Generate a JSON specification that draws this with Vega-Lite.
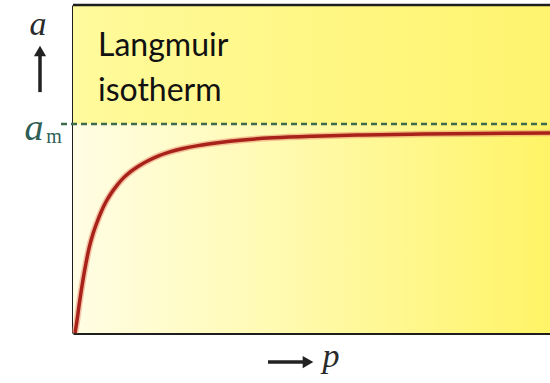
{
  "$schema": "https://vega.github.io/schema/vega-lite/v6.json",
  "width": 477,
  "height": 328,
  "autosize": {"type": "none"},
  "padding": {"left": 73, "top": 5, "right": 0, "bottom": 50},
  "background": "white",
  "config": {"view": {"stroke": null}},
  "datasets": {
    "panels": [
      {"part": "below", "p0": 0, "p1": 477, "a0": 0, "a1": 1.0},
      {"part": "above", "p0": 0, "p1": 477, "a0": 1.0, "a1": 1.57}
    ],
    "isotherm": [
      {"p": 2, "a": 0.0},
      {"p": 4, "a": 0.06},
      {"p": 6, "a": 0.13},
      {"p": 8, "a": 0.195},
      {"p": 10, "a": 0.255},
      {"p": 13, "a": 0.335},
      {"p": 16, "a": 0.405},
      {"p": 20, "a": 0.475},
      {"p": 24, "a": 0.53},
      {"p": 28, "a": 0.578},
      {"p": 33, "a": 0.628},
      {"p": 38, "a": 0.668},
      {"p": 44, "a": 0.707},
      {"p": 50, "a": 0.74},
      {"p": 57, "a": 0.77},
      {"p": 65, "a": 0.797},
      {"p": 74, "a": 0.822},
      {"p": 85, "a": 0.847},
      {"p": 97, "a": 0.867},
      {"p": 110, "a": 0.883},
      {"p": 125, "a": 0.897},
      {"p": 145, "a": 0.911},
      {"p": 170, "a": 0.924},
      {"p": 200, "a": 0.934},
      {"p": 240, "a": 0.942},
      {"p": 290, "a": 0.948},
      {"p": 350, "a": 0.952},
      {"p": 410, "a": 0.955},
      {"p": 477, "a": 0.957}
    ],
    "monolayer": [{"p0": -12, "p1": 477, "a": 1.0}],
    "frameTop": [{"p0": 0, "p1": 477, "a": 1.57}],
    "caption": [
      {"p": 25, "a": 1.325, "text": "Langmuir"},
      {"p": 25, "a": 1.11, "text": "isotherm"}
    ],
    "italicLetters": [
      {"p": -35, "a": 1.426, "text": "a", "tone": "axis", "size": 34},
      {"p": -39, "a": 0.923, "text": "a", "tone": "mono", "size": 38},
      {"p": 258, "a": -0.163, "text": "p", "tone": "axis", "size": 34}
    ],
    "subscript": [{"p": -19, "a": 0.909, "text": "m"}],
    "arrowShafts": [
      {"p0": -33, "p1": -33, "a0": 1.153, "a1": 1.33},
      {"p0": 195, "p1": 230, "a0": -0.139, "a1": -0.139}
    ],
    "arrowHeads": [
      {"p": -33, "a": 1.35, "dir": "up"},
      {"p": 235, "a": -0.139, "dir": "right"}
    ]
  },
  "layer": [
    {
      "data": {"name": "panels"},
      "transform": [{"filter": "datum.part === 'below'"}],
      "mark": {
        "type": "rect",
        "fill": {
          "gradient": "linear",
          "x1": 0, "y1": 0, "x2": 1, "y2": 0,
          "stops": [
            {"offset": 0, "color": "#FFFDE4"},
            {"offset": 0.45, "color": "#FFFAAE"},
            {"offset": 1, "color": "#FFF466"}
          ]
        }
      },
      "encoding": {
        "x": {"field": "p0", "type": "quantitative", "scale": {"domain": [0, 477], "nice": false, "zero": false}, "axis": {"domainColor": "#1e1e1e", "domainWidth": 3, "ticks": false, "labels": false, "grid": false, "title": null}},
        "x2": {"field": "p1"},
        "y": {"field": "a0", "type": "quantitative", "scale": {"domain": [0, 1.57], "nice": false, "zero": false}, "axis": {"domainColor": "#1e1e1e", "domainWidth": 3, "ticks": false, "labels": false, "grid": false, "title": null}},
        "y2": {"field": "a1"}
      }
    },
    {
      "data": {"name": "panels"},
      "transform": [{"filter": "datum.part === 'above'"}],
      "mark": {
        "type": "rect",
        "fill": {
          "gradient": "linear",
          "x1": 0, "y1": 0, "x2": 1, "y2": 0,
          "stops": [
            {"offset": 0, "color": "#FFFA9C"},
            {"offset": 1, "color": "#FFF46E"}
          ]
        }
      },
      "encoding": {
        "x": {"field": "p0", "type": "quantitative"},
        "x2": {"field": "p1"},
        "y": {"field": "a0", "type": "quantitative"},
        "y2": {"field": "a1"}
      }
    },
    {
      "data": {"name": "frameTop"},
      "mark": {"type": "rule", "color": "#1e1e1e", "strokeWidth": 2.5},
      "encoding": {
        "x": {"field": "p0", "type": "quantitative"},
        "x2": {"field": "p1"},
        "y": {"field": "a", "type": "quantitative"}
      }
    },
    {
      "data": {"name": "monolayer"},
      "mark": {"type": "rule", "color": "#3E6A4E", "strokeWidth": 2.5, "strokeDash": [6, 4], "clip": false},
      "encoding": {
        "x": {"field": "p0", "type": "quantitative"},
        "x2": {"field": "p1"},
        "y": {"field": "a", "type": "quantitative"}
      }
    },
    {
      "data": {"name": "isotherm"},
      "mark": {"type": "line", "color": "#E7896A", "strokeWidth": 6.5, "opacity": 0.5, "interpolate": "monotone"},
      "encoding": {
        "x": {"field": "p", "type": "quantitative"},
        "y": {"field": "a", "type": "quantitative"}
      }
    },
    {
      "data": {"name": "isotherm"},
      "mark": {"type": "line", "color": "#A8221A", "strokeWidth": 3.5, "interpolate": "monotone"},
      "encoding": {
        "x": {"field": "p", "type": "quantitative"},
        "y": {"field": "a", "type": "quantitative"}
      }
    },
    {
      "data": {"name": "caption"},
      "mark": {"type": "text", "font": "Lato", "fontSize": 32, "align": "left", "baseline": "alphabetic", "color": "#111111"},
      "encoding": {
        "x": {"field": "p", "type": "quantitative"},
        "y": {"field": "a", "type": "quantitative"},
        "text": {"field": "text"}
      }
    },
    {
      "data": {"name": "italicLetters"},
      "mark": {"type": "text", "font": "Liberation Serif", "fontStyle": "italic", "align": "center", "baseline": "alphabetic"},
      "encoding": {
        "x": {"field": "p", "type": "quantitative"},
        "y": {"field": "a", "type": "quantitative"},
        "text": {"field": "text"},
        "size": {"field": "size", "type": "quantitative", "scale": null},
        "color": {"field": "tone", "type": "nominal", "scale": {"domain": ["axis", "mono"], "range": ["#2a2a2a", "#2E5E55"]}, "legend": null}
      }
    },
    {
      "data": {"name": "subscript"},
      "mark": {"type": "text", "font": "Liberation Serif", "fontSize": 20, "align": "center", "baseline": "alphabetic", "color": "#2E5E55"},
      "encoding": {
        "x": {"field": "p", "type": "quantitative"},
        "y": {"field": "a", "type": "quantitative"},
        "text": {"field": "text"}
      }
    },
    {
      "data": {"name": "arrowShafts"},
      "mark": {"type": "rule", "color": "#222222", "strokeWidth": 3.5, "clip": false},
      "encoding": {
        "x": {"field": "p0", "type": "quantitative"},
        "x2": {"field": "p1"},
        "y": {"field": "a0", "type": "quantitative"},
        "y2": {"field": "a1"}
      }
    },
    {
      "data": {"name": "arrowHeads"},
      "mark": {"type": "point", "filled": true, "color": "#222222", "size": 150, "opacity": 1, "clip": false},
      "encoding": {
        "x": {"field": "p", "type": "quantitative"},
        "y": {"field": "a", "type": "quantitative"},
        "shape": {"field": "dir", "type": "nominal", "scale": {"domain": ["up", "right"], "range": ["triangle-up", "triangle-right"]}, "legend": null}
      }
    }
  ]
}
